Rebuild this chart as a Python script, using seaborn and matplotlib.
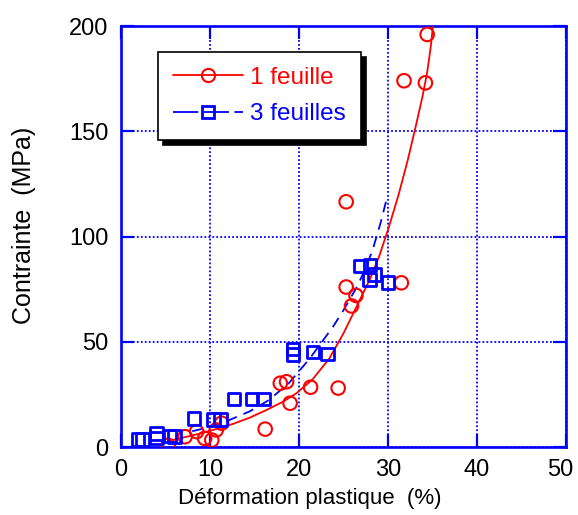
import matplotlib
matplotlib.use("Agg")
import matplotlib.pyplot as plt
from matplotlib.lines import Line2D
import matplotlib.transforms as mtransforms
import seaborn as sns
import pandas as pd

# ---- data ----
red_x = [34.4, 34.2, 31.8, 25.3, 31.5, 25.3, 26.4, 25.9, 17.9, 18.6, 21.3, 24.4,
         19.0, 16.2, 5.3, 7.2, 8.5, 9.4, 10.2, 10.7, 11.3]
red_y = [196, 173, 174, 116.5, 78, 76, 72, 67, 30.3, 31, 28.4, 28,
         20.8, 8.5, 0.8, 4.9, 7.3, 4.1, 3.3, 8.1, 11.3]

blue_x = [1.9, 2.4, 4.0, 4.0, 5.5, 6.0, 8.2, 10.4, 11.2, 12.7, 14.7, 16.0,
          19.3, 19.3, 21.6, 23.2, 26.9, 28.0, 28.5, 27.9, 30.0]
blue_y = [3.5, 3.5, 6.5, 4.3, 5.2, 5.0, 13.6, 13.0, 13.0, 22.7, 22.8, 22.8,
          46.5, 44.0, 45.0, 44.2, 86.0, 86.5, 82.0, 79.5, 78.2]

red_fit_x = [5.5, 7.0, 9.0, 10.7, 12.6, 14.5, 16.3, 18.2, 19.7, 21.5, 23.4, 25.0,
             26.5, 28.0, 29.0, 30.1, 31.2, 32.2, 33.1, 33.9, 34.4, 34.8, 35.05]
red_fit_y = [3.0, 4.5, 6.5, 8.5, 11.0, 14.0, 17.5, 21.5, 25.5, 32.0, 42.0, 54.0,
             67.0, 80.0, 90.5, 104.5, 120.0, 136.0, 152.0, 167.0, 178.0, 190.0, 200.0]

blue_fit_x = [8.0, 10.0, 12.0, 14.5, 16.5, 18.8, 21.2, 23.8, 25.0, 26.5, 27.5,
              28.3, 29.2, 29.8]
blue_fit_y = [7.5, 9.5, 12.5, 17.0, 22.0, 30.0, 42.0, 57.0, 65.0, 76.0, 85.0,
              94.0, 107.0, 117.0]

series_labels = ["1 feuille", "3 feuilles"]
x_ticks = [0, 10, 20, 30, 40, 50]
y_ticks = [0, 50, 100, 150, 200]

RED = "#ff0000"
BLUE = "#0000ff"

sns.set_theme(style="white")
plt.rcParams["font.family"] = ["Liberation Sans", "DejaVu Sans"]

W, H = 578, 515
fig = plt.figure(figsize=(W / 100, H / 100), dpi=100)
ax = fig.add_axes([121 / W, 1 - 447 / H, (566 - 121) / W, (447 - 26) / H])

df_red = pd.DataFrame({"x": red_x, "y": red_y})
df_blue = pd.DataFrame({"x": blue_x, "y": blue_y})
df_rfit = pd.DataFrame({"x": red_fit_x, "y": red_fit_y})
df_bfit = pd.DataFrame({"x": blue_fit_x, "y": blue_fit_y})

sns.lineplot(data=df_rfit, x="x", y="y", ax=ax, color=RED, lw=1.3,
             sort=False, estimator=None, zorder=3)
sns.lineplot(data=df_bfit, x="x", y="y", ax=ax, color=BLUE, lw=1.3,
             sort=False, estimator=None, zorder=3, dashes=False)
ax.lines[-1].set_dashes([6, 4])

sns.scatterplot(data=df_red, x="x", y="y", ax=ax, marker="o", s=95,
                facecolor="none", edgecolor=RED, linewidth=1.5, zorder=4)
sns.scatterplot(data=df_blue, x="x", y="y", ax=ax, marker="s", s=80,
                facecolor="none", edgecolor=BLUE, linewidth=2.0, zorder=4)

ax.set_xlim(0, 50)
ax.set_ylim(0, 200)
ax.set_xticks(x_ticks)
ax.set_yticks(y_ticks)
ax.set_xticklabels([str(v) for v in x_ticks])
ax.set_yticklabels([str(v) for v in y_ticks])

ax.grid(True, color=BLUE, linestyle=(0, (1, 1.2)), linewidth=1.3)
ax.set_axisbelow(True)
for sp in ax.spines.values():
    sp.set_color(BLUE)
    sp.set_linewidth(1.9)
    sp.set_visible(True)

ax.tick_params(axis="both", which="major", direction="in", length=9.5,
               width=1.6, color=BLUE, labelsize=17, labelcolor="black",
               pad=9, top=True, right=True, bottom=True, left=True)

# keep the last x tick label inside the picture
last = ax.get_xticklabels()[-1]
last.set_transform(last.get_transform() +
                   mtransforms.ScaledTranslation(-6 / 100, 0, fig.dpi_scale_trans))

ax.set_xlabel("Déformation plastique  (%)", fontsize=16, color="black")
ax.set_ylabel("Contrainte  (MPa)", fontsize=18, color="black")
ax.xaxis.set_label_coords(0.424, -0.097)
ax.yaxis.set_label_coords(-0.19, 0.527)

handles = [
    Line2D([], [], color=RED, lw=1.3, marker="o", markersize=9.5,
           markerfacecolor="none", markeredgecolor=RED, markeredgewidth=1.5),
    Line2D([], [], color=BLUE, lw=1.3, marker="s", markersize=8.5,
           markerfacecolor="none", markeredgecolor=BLUE, markeredgewidth=2.0,
           dashes=[14, 3]),
]
leg = ax.legend(handles, series_labels, loc="upper left",
                bbox_to_anchor=((158 - 121) / 445, (447 - 52) / 421),
                borderaxespad=0, fontsize=17.5, handlelength=2.9,
                handletextpad=0.3, borderpad=0.6, labelspacing=0.6,
                fancybox=False, framealpha=1, edgecolor="black",
                shadow={"ox": 3.5, "oy": -3.5, "facecolor": "black",
                        "edgecolor": "black", "alpha": 1})
leg.get_frame().set_linewidth(1.2)
for txt, c in zip(leg.get_texts(), [RED, BLUE]):
    txt.set_color(c)

fig.savefig("out.png", dpi=100)
